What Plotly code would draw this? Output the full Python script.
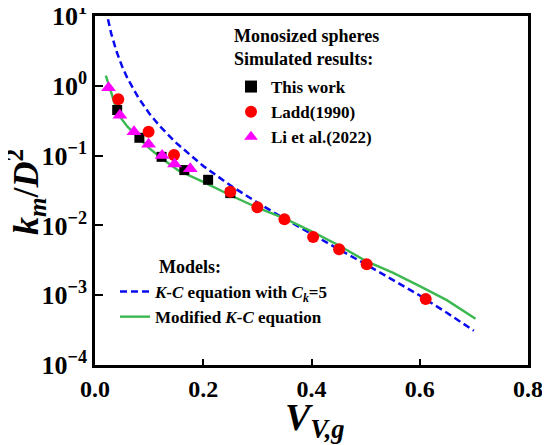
import plotly.graph_objects as go

# simulated results
this_work_x = [0.041, 0.082, 0.123, 0.165, 0.209, 0.250]
this_work_y = [0.45, 0.18, 0.096, 0.062, 0.045, 0.029]

ladd_x = [0.043, 0.099, 0.146, 0.250, 0.300, 0.350, 0.403, 0.451, 0.502, 0.611]
ladd_y = [0.64, 0.22, 0.102, 0.0303, 0.0182, 0.0122, 0.0068, 0.00454, 0.00277, 0.00088]

li_x = [0.025, 0.046, 0.072, 0.099, 0.124, 0.147, 0.176]
li_y = [0.94, 0.38, 0.22, 0.146, 0.100, 0.076, 0.065]

# models
kc_x = [0.024, 0.025, 0.03, 0.04, 0.05, 0.06, 0.08, 0.10, 0.12, 0.15, 0.20,
        0.25, 0.30, 0.35, 0.40, 0.45, 0.50, 0.55, 0.60, 0.65, 0.70]
kc_y = [9.0, 8.2, 5.6, 3.07, 1.9, 1.28, 0.68, 0.405, 0.263, 0.152, 0.071,
        0.0375, 0.0212, 0.0125, 0.0075, 0.00456, 0.00278, 0.00167, 0.00099, 0.00056, 0.00031]

mod_x = [0.020, 0.025, 0.030, 0.037, 0.046, 0.060, 0.072, 0.085, 0.100, 0.124, 0.154,
         0.200, 0.250, 0.300, 0.350, 0.400, 0.450, 0.500, 0.550, 0.600, 0.650, 0.703]
mod_y = [1.40, 1.05, 0.80, 0.54, 0.36, 0.26, 0.21, 0.165, 0.128, 0.090, 0.061,
         0.042, 0.027, 0.018, 0.0126, 0.0082, 0.0052, 0.0031, 0.0021, 0.00135, 0.00085, 0.00046]

ytick_vals = [1e-4, 1e-3, 1e-2, 1e-1, 1, 10]
ytick_text = ["10<sup>−4</sup>", "10<sup>−3</sup>", "10<sup>−2</sup>",
              "10<sup>−1</sup>", "10<sup>0</sup>", "10<sup>1</sup>"]
yminor_vals = [m * 10.0 ** e for e in range(-4, 1) for m in range(2, 10)]
xminor_vals = [0.1, 0.3, 0.5, 0.7]

SERIF = "Liberation Serif, Times New Roman, serif"

# page body has an 8px margin, so the figure is 8px smaller and shifted
OFF = 8
L, R, T, B = 95 - OFF, 22, 16 - OFF, 80
W, H = 550 - OFF, 445 - OFF
pw, ph = W - L - R, H - T - B


def px(x):
    return (x - OFF - L) / pw


def py(y):
    return 1 - (y - OFF - T) / ph


fig = go.Figure()

fig.add_trace(go.Scatter(x=kc_x, y=kc_y, mode="lines", legend="legend2",
                         name="<b><i>K</i>-<i>C</i> equation with <i>C<sub>k</sub></i>=5</b>",
                         line=dict(color="#0a0af0", width=2.5, dash="7px,4px")))
fig.add_trace(go.Scatter(x=mod_x, y=mod_y, mode="lines", legend="legend2",
                         name="<b>Modified <i>K</i>-<i>C</i> equation</b>",
                         line=dict(color="#3cb850", width=2.4)))

fig.add_trace(go.Scatter(x=this_work_x, y=this_work_y, mode="markers", name="<b>This work</b>",
                         marker=dict(symbol="square", size=10, color="black")))
fig.add_trace(go.Scatter(x=ladd_x, y=ladd_y, mode="markers", name="<b>Ladd(1990)</b>",
                         marker=dict(symbol="circle", size=12, color="#ff0000")))
fig.add_trace(go.Scatter(x=li_x, y=li_y, mode="markers", name="<b>Li et al.(2022)</b>",
                         marker=dict(symbol="triangle-up", size=13, color="#ff00ff")))

note_font = dict(family=SERIF, size=18, color="black")
fig.add_annotation(x=px(232), y=py(36), xref="paper", yref="paper", text="<b>Monosized spheres</b>",
                   showarrow=False, xanchor="left", yanchor="middle", font=note_font)
fig.add_annotation(x=px(232), y=py(59), xref="paper", yref="paper", text="<b>Simulated results:</b>",
                   showarrow=False, xanchor="left", yanchor="middle", font=note_font)
fig.add_annotation(x=px(157), y=py(267), xref="paper", yref="paper", text="<b>Models:</b>",
                   showarrow=False, xanchor="left", yanchor="middle", font=note_font)

# axis titles
fig.add_annotation(x=px(315), y=py(420), xref="paper", yref="paper",
                   text="<b><i>V<sub>V,g</sub></i></b>", showarrow=False,
                   xanchor="center", yanchor="middle", font=dict(family=SERIF, size=38, color="black"))
fig.add_annotation(x=px(26), y=py(192), xref="paper", yref="paper",
                   text="<b><i>k<sub>m</sub></i>/<i>D</i><sup>2</sup></b>", showarrow=False,
                   textangle=-90, xanchor="center", yanchor="middle",
                   font=dict(family=SERIF, size=36, color="black"))

tick_font_x = dict(family=SERIF, size=24, color="black", weight="bold")
tick_font_y = dict(family=SERIF, size=26, color="black", weight="bold")

fig.update_layout(
    width=W, height=H,
    margin=dict(l=L, r=R, t=T, b=B, autoexpand=False),
    plot_bgcolor="white", paper_bgcolor="white",
    font=dict(family=SERIF, color="black"),
    legend=dict(x=px(231), y=py(69), xanchor="left", yanchor="top",
                bgcolor="rgba(0,0,0,0)", font=dict(family=SERIF, size=17, color="black"),
                tracegroupgap=0, itemsizing="constant"),
    legend2=dict(x=px(115), y=py(274), xanchor="left", yanchor="top",
                 bgcolor="rgba(0,0,0,0)", font=dict(family=SERIF, size=17, color="black"),
                 tracegroupgap=0),
    xaxis=dict(range=[0, 0.8], dtick=0.2, tick0=0, tickformat=".1f", automargin=False,
               ticks="inside", ticklen=6, tickwidth=2, tickcolor="black",
               showline=True, linecolor="black", linewidth=2.5, mirror=True,
               showgrid=False, zeroline=False, ticklabeloverflow="allow",
               tickfont=tick_font_x),
    xaxis2=dict(range=[0, 0.8], overlaying="x", side="bottom", tickvals=xminor_vals,
                showticklabels=False, ticks="inside", ticklen=4, tickwidth=1.5, tickcolor="black",
                showgrid=False, zeroline=False, showline=False, automargin=False),
    yaxis=dict(type="log", range=[-4, 1], tickvals=ytick_vals, ticktext=ytick_text,
               automargin=False, ticklabeloverflow="allow",
               ticks="inside", ticklen=8, tickwidth=2, tickcolor="black",
               showline=True, linecolor="black", linewidth=2.5, mirror=True,
               showgrid=False, zeroline=False,
               tickfont=tick_font_y),
    # minor log ticks on an overlaid axis
    yaxis2=dict(type="log", range=[-4, 1], overlaying="y", side="left", tickvals=yminor_vals,
                showticklabels=False, ticks="inside", ticklen=5, tickwidth=1.5, tickcolor="black",
                showgrid=False, zeroline=False, showline=False, automargin=False),
)

fig.write_html("out.html")
